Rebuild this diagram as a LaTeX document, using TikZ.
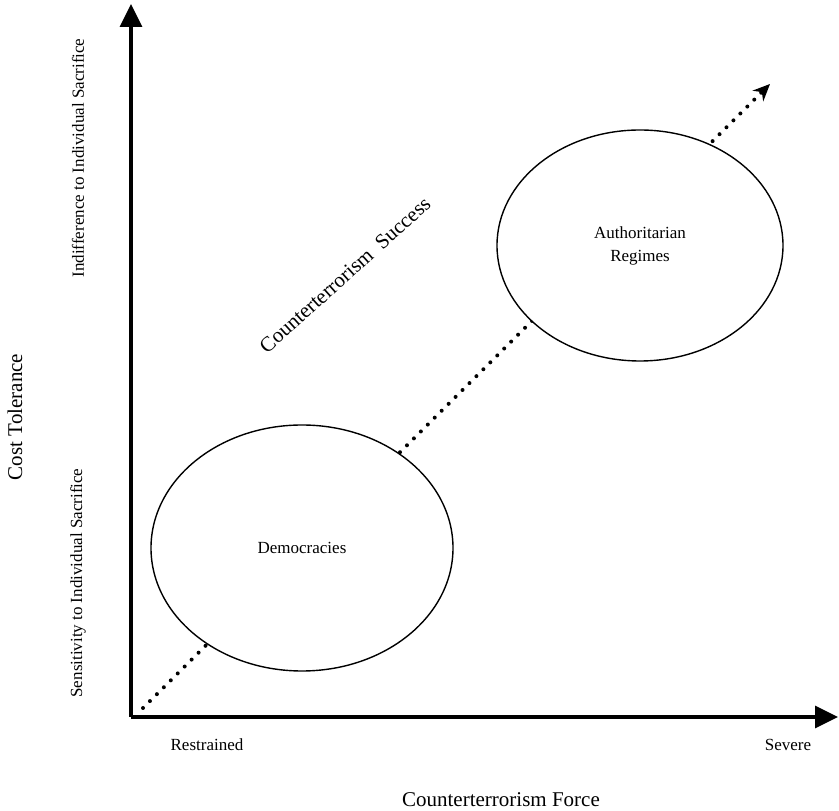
\documentclass[tikz,border=0pt]{standalone}
\usepackage{fontspec}
\setmainfont{Liberation Serif}
\usetikzlibrary{arrows.meta, shapes.geometric}

\begin{document}
\begin{tikzpicture}[x=1pt,y=1pt,
    axis/.style={line width=3.5pt, -{Triangle[length=23pt,width=22pt]}},
    trend/.style={line width=4pt, line cap=round, dash pattern=on 0pt off 9.8pt,
                  -{Stealth[length=17pt,width=15pt]}},
    region/.style={ellipse, draw, line width=1.4pt, fill=white, inner sep=0pt, align=center},
    small/.style={font=\fontsize{17}{23}\selectfont},
    big/.style={font=\fontsize{21}{25}\selectfont}]
  \useasboundingbox (0,0) rectangle (839,811);

  % trend of counterterrorism success
  \coordinate (ts) at (143,103);
  \coordinate (te) at (770,727);
  \draw[trend] (ts) -- (te);

  % regime types
  \node[region, minimum width=302pt, minimum height=246pt, small] (dem) at (302,263) {Democracies};
  \node[region, minimum width=286pt, minimum height=231pt, small] (auth) at (640,565.5) {Authoritarian\\Regimes};

  % axes
  \coordinate (O) at (131,94);
  \coordinate (ytip) at (131,807);
  \coordinate (xtip) at (838,94);
  \draw[axis] (O) -- (ytip);
  \draw[axis] (O) -- (xtip);

  % axis labels
  \node[small] (restr) at (207,66) {Restrained};
  \node[small] (sev) at (788,66) {Severe};
  \node[big] (force) at (501,11) {Counterterrorism Force};
  \node[big, rotate=90] (cost) at (15,394) {Cost Tolerance};
  \node[small, rotate=90] (indiff) at (78,653) {Indifference to Individual Sacrifice};
  \node[small, rotate=90] (sens) at (78,228) {Sensitivity to Individual Sacrifice};
  \node[big, rotate=42] (succ) at (345,536) {Counterterrorism\ \ Success};
\end{tikzpicture}
\end{document}
